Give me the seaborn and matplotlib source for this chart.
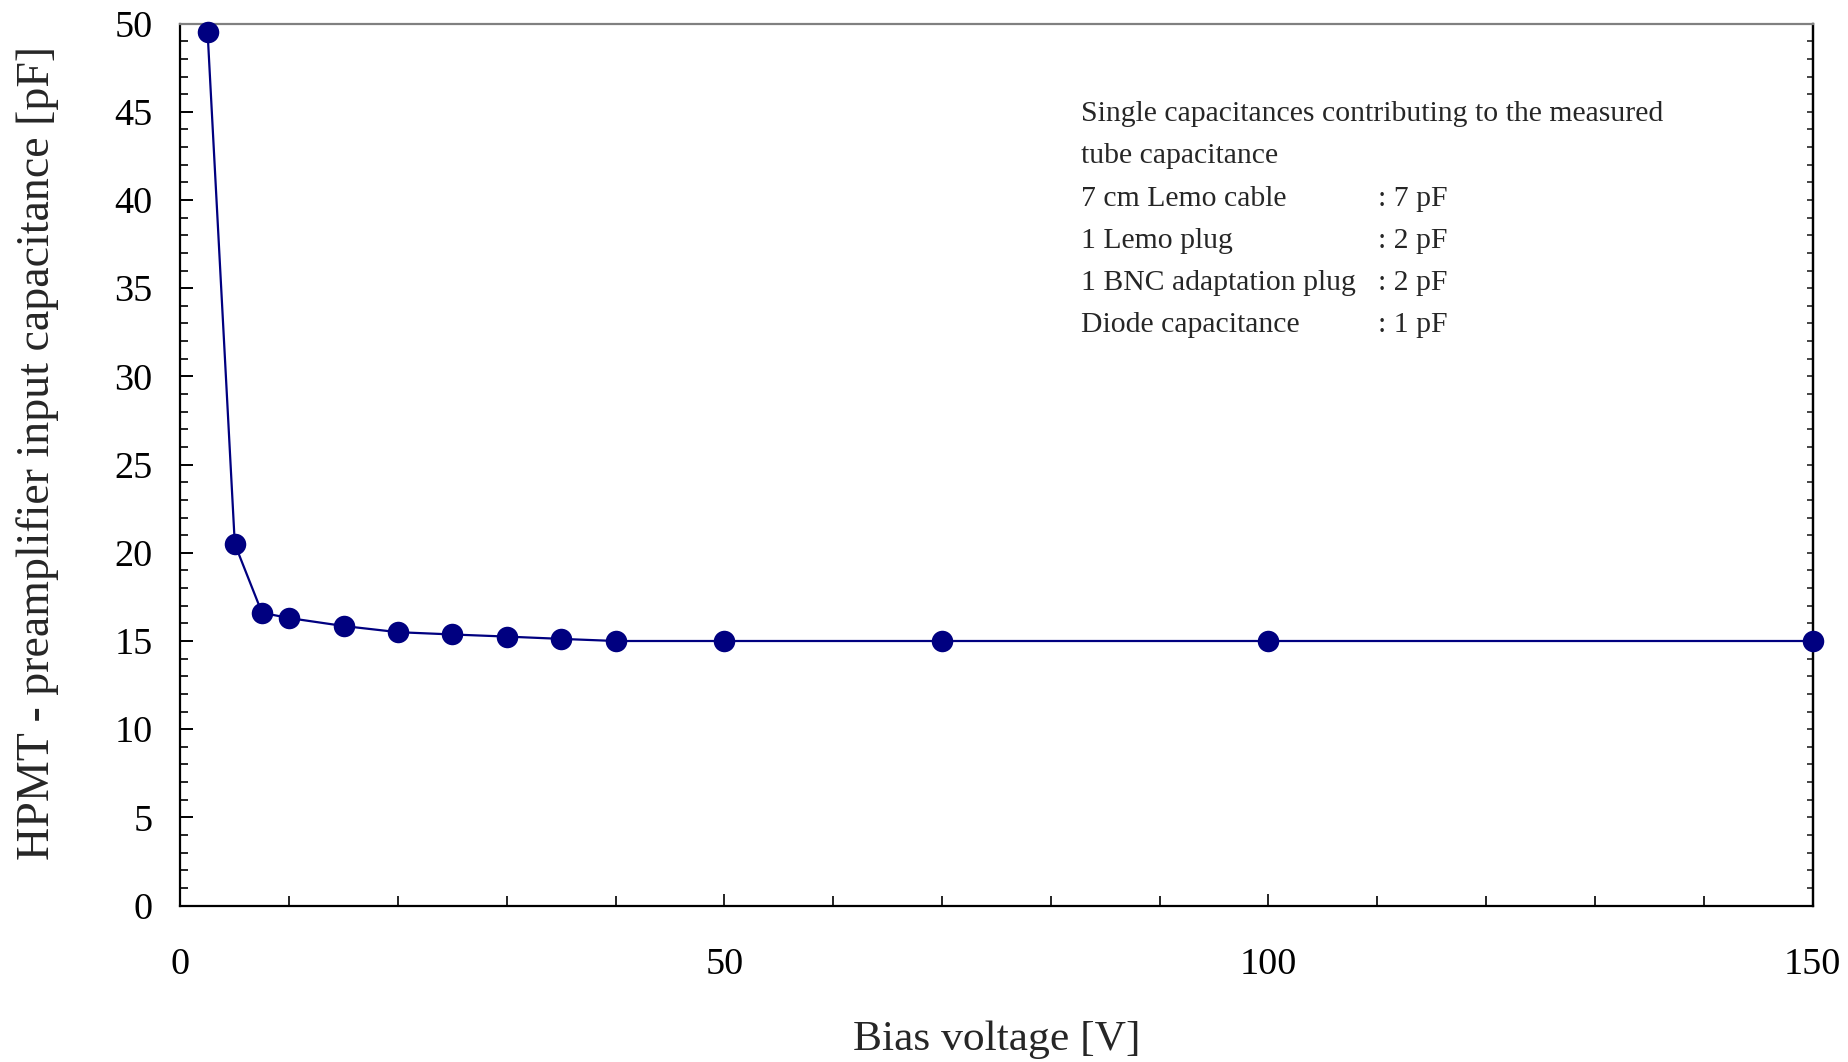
import matplotlib
matplotlib.use("Agg")
import matplotlib.pyplot as plt
import seaborn as sns
import pandas as pd
from matplotlib.ticker import MultipleLocator

# ---- data ----
bias_voltage = [2.5, 5, 7.5, 10, 15, 20, 25, 30, 35, 40, 50, 70, 100, 150]
capacitance = [49.5, 20.5, 16.6, 16.3, 15.85, 15.5, 15.37, 15.25, 15.12, 15.0, 15.0, 15.0, 15.0, 15.0]

x_major_ticks = [0, 50, 100, 150]
y_major_ticks = [0, 5, 10, 15, 20, 25, 30, 35, 40, 45, 50]

note_title = ["Single capacitances contributing to the measured", "tube capacitance"]
note_items = ["7 cm Lemo cable", "1 Lemo plug", "1 BNC adaptation plug", "Diode capacitance"]
note_values = [": 7 pF", ": 2 pF", ": 2 pF", ": 1 pF"]

x_label = "Bias voltage [V]"
y_label = "HPMT - preamplifier input capacitance [pF]"

df = pd.DataFrame({"V": bias_voltage, "C": capacitance})

sns.set_theme(style="ticks")
plt.rcParams["font.family"] = ["Liberation Serif", "DejaVu Serif"]
plt.rcParams["mathtext.fontset"] = "stix"

W, H = 1849, 1062
fig = plt.figure(figsize=(W / 100, H / 100), dpi=100)
ax = fig.add_axes([180.4 / W, 1 - 905.6 / H, (1812.5 - 180.4) / W, (905.6 - 23.6) / H])

navy = "#000080"
sns.lineplot(data=df, x="V", y="C", ax=ax, color=navy, linewidth=1.6,
             marker="o", markersize=15.5, markeredgewidth=0, markerfacecolor=navy,
             clip_on=False, zorder=5)

ax.set_xlim(0, 150)
ax.set_ylim(0, 50)
ax.set_xticks(x_major_ticks)
ax.set_yticks(y_major_ticks)
ax.xaxis.set_minor_locator(MultipleLocator(10))
ax.yaxis.set_minor_locator(MultipleLocator(1))

ax.tick_params(axis="both", which="both", direction="in", colors="black",
               labelsize=27.5)
ax.tick_params(axis="y", which="major", length=9, width=1.4, pad=20, left=True, right=False)
ax.tick_params(axis="y", which="minor", length=6, width=1.2, left=True, right=False)
ax.tick_params(axis="x", which="major", length=9, width=1.2, pad=30, top=False)
ax.tick_params(axis="x", which="minor", length=7, width=1.2, top=False)

# right-side short ticks
sec = ax.secondary_yaxis("right")
sec.set_yticks(y_major_ticks)
sec.yaxis.set_minor_locator(MultipleLocator(1))
sec.tick_params(axis="y", which="both", direction="in", length=4, width=1.2,
                labelright=False)
sec.spines["right"].set_linewidth(1.6)
sec.spines["right"].set_color("black")

for s in ["left", "bottom", "right"]:
    ax.spines[s].set_color("black")
    ax.spines[s].set_linewidth(1.6)
ax.spines["top"].set_color("#808080")
ax.spines["top"].set_linewidth(1.6)
ax.spines["top"].set_visible(True)
ax.spines["right"].set_visible(True)

ax.set_xlabel(x_label, fontsize=31.3, labelpad=28)
ax.set_ylabel(y_label, fontsize=33.0)
ax.yaxis.set_label_coords(-0.0745, 0.513)

# annotation block
fs_note = 21.4
ys = [0.897, 0.850, 0.801, 0.753, 0.706, 0.658]
ax.text(0.552, ys[0], note_title[0], transform=ax.transAxes, fontsize=fs_note, va="center", ha="left")
ax.text(0.552, ys[1], note_title[1], transform=ax.transAxes, fontsize=fs_note, va="center", ha="left")
for i, (item, val) in enumerate(zip(note_items, note_values)):
    ax.text(0.552, ys[i + 2], item, transform=ax.transAxes, fontsize=fs_note, va="center", ha="left")
    ax.text(0.734, ys[i + 2], val, transform=ax.transAxes, fontsize=fs_note, va="center", ha="left")

fig.savefig("out.png", dpi=100)
